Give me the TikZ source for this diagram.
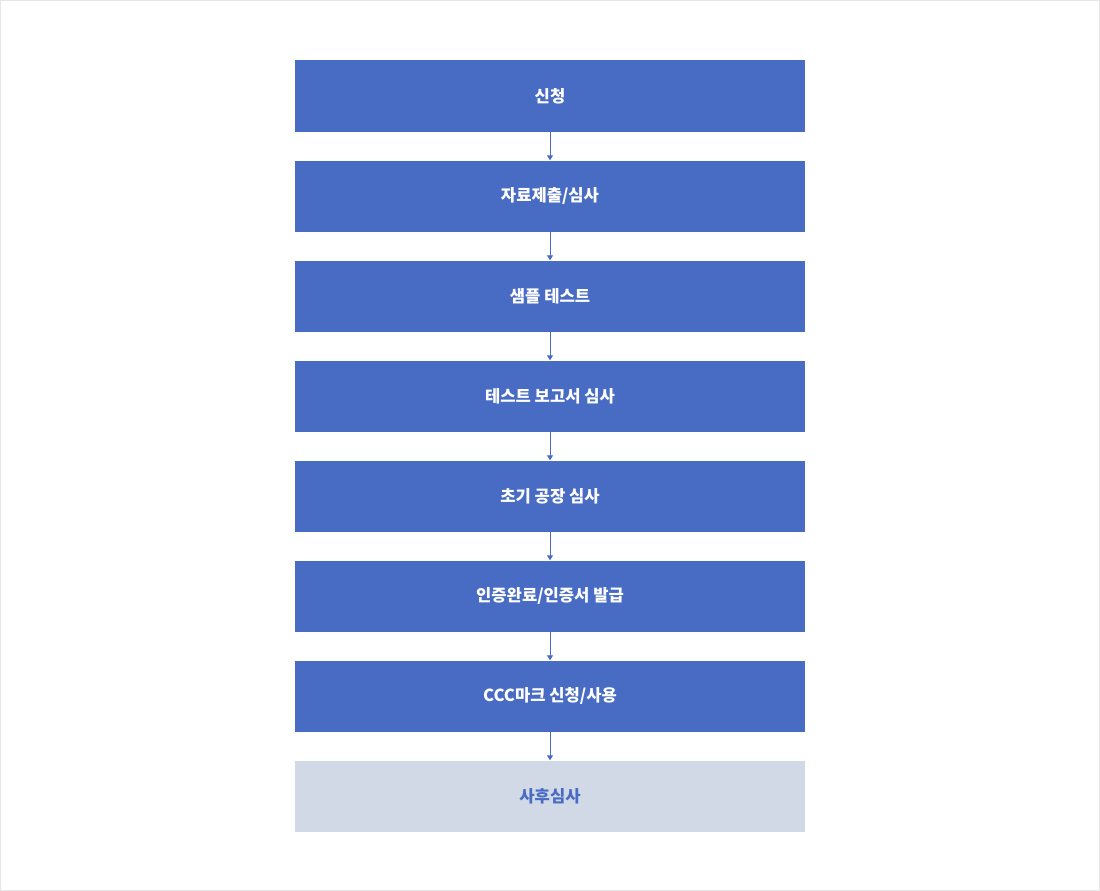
\documentclass[tikz,border=0pt]{standalone}
\usepackage{fontspec}
\setmainfont{Noto Sans CJK KR}
\usetikzlibrary{arrows.meta}
\definecolor{boxblue}{HTML}{486CC3}
\definecolor{boxlight}{HTML}{D1D8E6}
\definecolor{frame}{HTML}{E6E6E6}
\begin{document}
\begin{tikzpicture}[x=1pt,y=-1pt,
  stepbox/.style={fill=boxblue,draw=none,minimum width=510pt,minimum height=71pt,inner sep=0pt,
    text=white,font=\fontsize{16.6}{19}\selectfont\bfseries},
  lastbox/.style={stepbox,fill=boxlight,text=boxblue},
  conn/.style={draw=boxblue,line width=1pt,-{Triangle[width=6pt,length=5pt]}}]
\useasboundingbox (0,0) rectangle (1100,891);
\draw[frame,line width=1pt] (0.5,0.5) rectangle (1099.5,890.5);
\node[stepbox] (s1) at (550,96) {신청};
\node[stepbox] (s2) at (550,196) {자료제출/심사};
\node[stepbox] (s3) at (550,296) {샘플 테스트};
\node[stepbox] (s4) at (550,396) {테스트 보고서 심사};
\node[stepbox] (s5) at (550,496) {초기 공장 심사};
\node[stepbox] (s6) at (550,596) {인증완료/인증서 발급};
\node[stepbox] (s7) at (550,696) {CCC마크 신청/사용};
\node[lastbox] (s8) at (550,796) {사후심사};
\foreach \a/\b in {s1/s2,s2/s3,s3/s4,s4/s5,s5/s6,s6/s7,s7/s8}
  \draw[conn] (\a.south) -- (\b.north);
\end{tikzpicture}
\end{document}
